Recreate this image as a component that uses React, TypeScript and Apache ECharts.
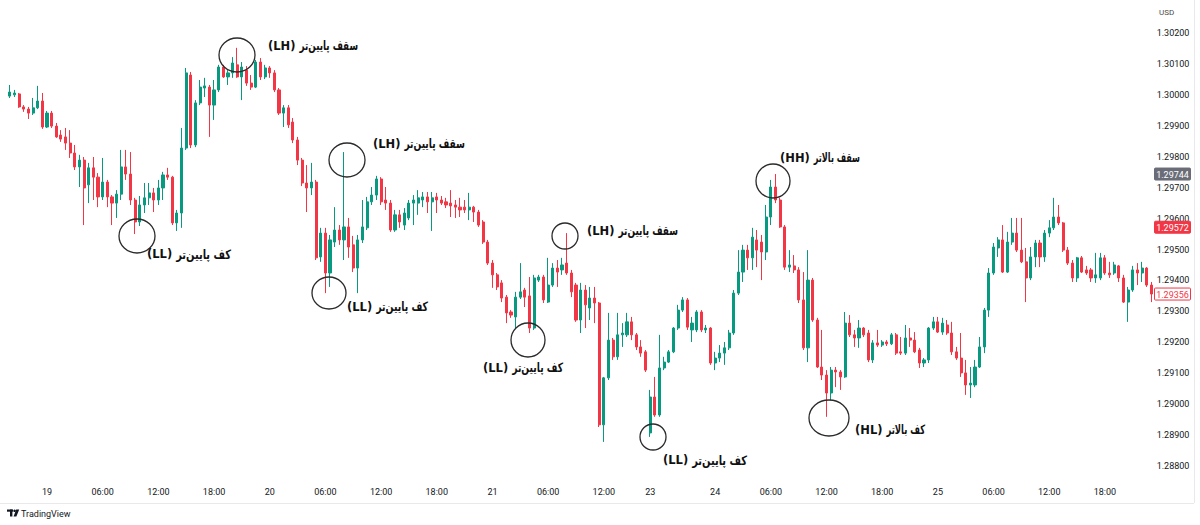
import React, { useEffect, useRef } from "react";
import * as echarts from "echarts";

// ---- time axis (30-minute bars, weekend skipped) ----
const sessionDays = ["18", "19", "20", "21", "23", "24", "25"];
const sessionStartHalfHours = [40, 0, 0, 0, 34, 0, 0];
const sessionBarCounts = [8, 48, 48, 34, 14, 48, 47];

const tickCategories = [
  "19 00:00", "19 06:00", "19 12:00", "19 18:00",
  "20 00:00", "20 06:00", "20 12:00", "20 18:00",
  "21 00:00", "21 06:00", "21 12:00",
  "23 17:00",
  "24 00:00", "24 06:00", "24 12:00", "24 18:00",
  "25 00:00", "25 06:00", "25 12:00", "25 18:00",
];
const tickLabels = [
  "19", "06:00", "12:00", "18:00",
  "20", "06:00", "12:00", "18:00",
  "21", "06:00", "12:00",
  "23",
  "24", "06:00", "12:00", "18:00",
  "25", "06:00", "12:00", "18:00",
];

// ---- OHLC values ----
const opens = [
  1.29996, 1.30000, 1.30003, 1.29961, 1.29954, 1.29941, 1.29958, 1.29980, 1.29896, 1.29941,
  1.29899, 1.29870, 1.29864, 1.29844, 1.29812, 1.29767, 1.29789, 1.29709, 1.29764, 1.29734,
  1.29670, 1.29718, 1.29670, 1.29650, 1.29679, 1.29767, 1.29744, 1.29660, 1.29589, 1.29644,
  1.29667, 1.29683, 1.29660, 1.29699, 1.29741, 1.29734, 1.29586, 1.29618, 1.29828, 1.30064,
  1.29838, 1.29974, 1.30022, 1.30025, 1.29967, 1.30016, 1.30090, 1.30058, 1.30071, 1.30097,
  1.30058, 1.30080, 1.30038, 1.30025, 1.30106, 1.30058, 1.30087, 1.30071, 1.30016, 1.29941,
  1.29958, 1.29912, 1.29854, 1.29789, 1.29715, 1.29699, 1.29718, 1.29476, 1.29553, 1.29424,
  1.29524, 1.29563, 1.29531, 1.29573, 1.29515, 1.29440, 1.29531, 1.29570, 1.29654, 1.29676,
  1.29728, 1.29660, 1.29650, 1.29563, 1.29612, 1.29579, 1.29602, 1.29650, 1.29650, 1.29660,
  1.29670, 1.29654, 1.29670, 1.29660, 1.29654, 1.29650, 1.29644, 1.29637, 1.29637, 1.29628,
  1.29637, 1.29621, 1.29589, 1.29524, 1.29456, 1.29418, 1.29392, 1.29346, 1.29298, 1.29282,
  1.29346, 1.29369, 1.29350, 1.29246, 1.29401, 1.29411, 1.29330, 1.29385, 1.29440, 1.29434,
  1.29456, 1.29424, 1.29385, 1.29272, 1.29369, 1.29311, 1.29343, 1.29327, 1.28933, 1.29085,
  1.29207, 1.29153, 1.29224, 1.29224, 1.29266, 1.29224, 1.29185, 1.29169, 1.28907, 1.29023,
  1.28965, 1.29117, 1.29136, 1.29169, 1.29246, 1.29304, 1.29337, 1.29240, 1.29240, 1.29298,
  1.29240, 1.29246, 1.29133, 1.29149, 1.29165, 1.29182, 1.29230, 1.29359, 1.29427, 1.29498,
  1.29473, 1.29531, 1.29524, 1.29492, 1.29605, 1.29702, 1.29660, 1.29573, 1.29443, 1.29447,
  1.29434, 1.29337, 1.29182, 1.29401, 1.29272, 1.29120, 1.29094, 1.29036, 1.29110, 1.29104,
  1.29088, 1.29262, 1.29224, 1.29214, 1.29246, 1.29230, 1.29143, 1.29198, 1.29191, 1.29201,
  1.29195, 1.29224, 1.29169, 1.29165, 1.29214, 1.29207, 1.29175, 1.29133, 1.29143, 1.29246,
  1.29266, 1.29233, 1.29256, 1.29230, 1.29169, 1.29149, 1.29101, 1.29062, 1.29062, 1.29120,
  1.29185, 1.29304, 1.29424, 1.29505, 1.29531, 1.29427, 1.29524, 1.29553, 1.29498, 1.29460,
  1.29408, 1.29476, 1.29521, 1.29476, 1.29553, 1.29570, 1.29605, 1.29586, 1.29498, 1.29456,
  1.29408, 1.29473, 1.29434, 1.29434, 1.29408, 1.29408, 1.29473, 1.29424, 1.29424, 1.29447,
  1.29408, 1.29330, 1.29369, 1.29434, 1.29424, 1.29440, 1.29385,
];

const closes = [
  1.30009, 1.30006, 1.29961, 1.29954, 1.29941, 1.29958, 1.29980, 1.29896, 1.29941, 1.29899,
  1.29864, 1.29857, 1.29844, 1.29812, 1.29767, 1.29789, 1.29699, 1.29764, 1.29734, 1.29670,
  1.29718, 1.29670, 1.29650, 1.29679, 1.29767, 1.29744, 1.29660, 1.29589, 1.29644, 1.29667,
  1.29683, 1.29660, 1.29699, 1.29741, 1.29734, 1.29586, 1.29618, 1.29828, 1.30071, 1.29838,
  1.29974, 1.30025, 1.30029, 1.29967, 1.30016, 1.30090, 1.30058, 1.30071, 1.30103, 1.30058,
  1.30090, 1.30038, 1.30025, 1.30106, 1.30058, 1.30087, 1.30071, 1.30016, 1.29941, 1.29958,
  1.29903, 1.29854, 1.29789, 1.29715, 1.29699, 1.29718, 1.29473, 1.29553, 1.29424, 1.29531,
  1.29563, 1.29531, 1.29573, 1.29508, 1.29440, 1.29531, 1.29573, 1.29654, 1.29676, 1.29728,
  1.29654, 1.29650, 1.29563, 1.29612, 1.29589, 1.29618, 1.29650, 1.29660, 1.29667, 1.29670,
  1.29654, 1.29667, 1.29660, 1.29650, 1.29644, 1.29641, 1.29637, 1.29628, 1.29628, 1.29637,
  1.29621, 1.29579, 1.29524, 1.29456, 1.29418, 1.29379, 1.29343, 1.29295, 1.29288, 1.29346,
  1.29363, 1.29346, 1.29246, 1.29408, 1.29411, 1.29337, 1.29385, 1.29440, 1.29427, 1.29450,
  1.29424, 1.29363, 1.29272, 1.29369, 1.29321, 1.29343, 1.29327, 1.28933, 1.29085, 1.29207,
  1.29153, 1.29224, 1.29230, 1.29266, 1.29224, 1.29185, 1.29165, 1.29110, 1.29023, 1.28965,
  1.29117, 1.29136, 1.29169, 1.29246, 1.29304, 1.29337, 1.29249, 1.29262, 1.29298, 1.29240,
  1.29246, 1.29133, 1.29149, 1.29165, 1.29182, 1.29230, 1.29359, 1.29427, 1.29498, 1.29473,
  1.29540, 1.29498, 1.29492, 1.29605, 1.29702, 1.29660, 1.29573, 1.29443, 1.29450, 1.29434,
  1.29337, 1.29182, 1.29401, 1.29272, 1.29120, 1.29094, 1.29036, 1.29110, 1.29104, 1.29088,
  1.29262, 1.29224, 1.29214, 1.29246, 1.29224, 1.29143, 1.29198, 1.29191, 1.29201, 1.29195,
  1.29224, 1.29165, 1.29165, 1.29214, 1.29207, 1.29169, 1.29133, 1.29143, 1.29246, 1.29266,
  1.29233, 1.29262, 1.29230, 1.29169, 1.29149, 1.29101, 1.29062, 1.29068, 1.29120, 1.29185,
  1.29304, 1.29424, 1.29508, 1.29531, 1.29427, 1.29524, 1.29553, 1.29498, 1.29460, 1.29408,
  1.29476, 1.29521, 1.29476, 1.29553, 1.29570, 1.29605, 1.29586, 1.29498, 1.29456, 1.29408,
  1.29473, 1.29427, 1.29424, 1.29408, 1.29418, 1.29473, 1.29424, 1.29418, 1.29450, 1.29408,
  1.29330, 1.29369, 1.29434, 1.29424, 1.29440, 1.29385, 1.29356,
];

const lows = [
  1.29990, 1.29993, 1.29958, 1.29945, 1.29922, 1.29935, 1.29954, 1.29890, 1.29893, 1.29893,
  1.29861, 1.29848, 1.29822, 1.29796, 1.29757, 1.29702, 1.29579, 1.29650, 1.29660, 1.29637,
  1.29660, 1.29637, 1.29579, 1.29602, 1.29660, 1.29725, 1.29644, 1.29550, 1.29576, 1.29618,
  1.29644, 1.29621, 1.29644, 1.29660, 1.29725, 1.29579, 1.29560, 1.29570, 1.29822, 1.29828,
  1.29831, 1.29967, 1.29993, 1.29864, 1.29919, 1.30009, 1.30055, 1.30032, 1.30055, 1.30055,
  1.29983, 1.30029, 1.30016, 1.30022, 1.30048, 1.30051, 1.30055, 1.30009, 1.29935, 1.29896,
  1.29893, 1.29844, 1.29773, 1.29705, 1.29621, 1.29676, 1.29466, 1.29460, 1.29359, 1.29379,
  1.29508, 1.29515, 1.29466, 1.29473, 1.29427, 1.29359, 1.29521, 1.29563, 1.29644, 1.29660,
  1.29644, 1.29628, 1.29557, 1.29557, 1.29570, 1.29563, 1.29595, 1.29579, 1.29612, 1.29637,
  1.29618, 1.29560, 1.29618, 1.29644, 1.29634, 1.29605, 1.29602, 1.29605, 1.29618, 1.29595,
  1.29589, 1.29573, 1.29518, 1.29450, 1.29376, 1.29369, 1.29330, 1.29262, 1.29279, 1.29246,
  1.29340, 1.29314, 1.29230, 1.29240, 1.29395, 1.29327, 1.29327, 1.29379, 1.29379, 1.29418,
  1.29418, 1.29346, 1.29266, 1.29230, 1.29246, 1.29272, 1.29262, 1.28926, 1.28878, 1.29078,
  1.29143, 1.29143, 1.29185, 1.29217, 1.29207, 1.29175, 1.29153, 1.29104, 1.28894, 1.28959,
  1.28959, 1.29110, 1.29133, 1.29165, 1.29240, 1.29298, 1.29240, 1.29201, 1.29233, 1.29233,
  1.29230, 1.29127, 1.29110, 1.29136, 1.29127, 1.29175, 1.29224, 1.29353, 1.29395, 1.29434,
  1.29434, 1.29443, 1.29401, 1.29466, 1.29579, 1.29650, 1.29570, 1.29434, 1.29427, 1.29424,
  1.29327, 1.29175, 1.29136, 1.29266, 1.29117, 1.29078, 1.28959, 1.29013, 1.29055, 1.29046,
  1.29085, 1.29217, 1.29185, 1.29182, 1.29217, 1.29136, 1.29133, 1.29185, 1.29185, 1.29188,
  1.29191, 1.29159, 1.29159, 1.29159, 1.29185, 1.29165, 1.29117, 1.29120, 1.29133, 1.29240,
  1.29230, 1.29224, 1.29224, 1.29159, 1.29143, 1.29088, 1.29030, 1.29020, 1.29055, 1.29117,
  1.29165, 1.29282, 1.29418, 1.29476, 1.29424, 1.29424, 1.29515, 1.29492, 1.29456, 1.29330,
  1.29401, 1.29443, 1.29443, 1.29460, 1.29540, 1.29563, 1.29579, 1.29492, 1.29450, 1.29395,
  1.29395, 1.29424, 1.29418, 1.29395, 1.29392, 1.29401, 1.29418, 1.29408, 1.29418, 1.29395,
  1.29327, 1.29266, 1.29363, 1.29385, 1.29395, 1.29379, 1.29330,
];

const highs = [
  1.30032, 1.30016, 1.30006, 1.29967, 1.29961, 1.29990, 1.30029, 1.30006, 1.29948, 1.29948,
  1.29909, 1.29886, 1.29893, 1.29886, 1.29838, 1.29806, 1.29799, 1.29780, 1.29799, 1.29747,
  1.29796, 1.29725, 1.29676, 1.29692, 1.29822, 1.29822, 1.29815, 1.29667, 1.29673, 1.29715,
  1.29715, 1.29699, 1.29725, 1.29751, 1.29764, 1.29738, 1.29628, 1.29893, 1.30087, 1.30074,
  1.29983, 1.30048, 1.30055, 1.30032, 1.30048, 1.30097, 1.30097, 1.30080, 1.30122, 1.30152,
  1.30106, 1.30093, 1.30064, 1.30113, 1.30119, 1.30097, 1.30093, 1.30080, 1.30022, 1.29967,
  1.29967, 1.29925, 1.29864, 1.29796, 1.29773, 1.29780, 1.29725, 1.29570, 1.29570, 1.29547,
  1.29637, 1.29579, 1.29815, 1.29602, 1.29544, 1.29547, 1.29660, 1.29670, 1.29702, 1.29738,
  1.29734, 1.29702, 1.29660, 1.29628, 1.29628, 1.29634, 1.29660, 1.29676, 1.29692, 1.29686,
  1.29686, 1.29686, 1.29683, 1.29673, 1.29667, 1.29692, 1.29660, 1.29667, 1.29660, 1.29683,
  1.29641, 1.29628, 1.29595, 1.29531, 1.29466, 1.29424, 1.29401, 1.29353, 1.29304, 1.29363,
  1.29456, 1.29376, 1.29411, 1.29418, 1.29418, 1.29418, 1.29473, 1.29456, 1.29466, 1.29473,
  1.29553, 1.29434, 1.29392, 1.29392, 1.29385, 1.29379, 1.29379, 1.29330, 1.29088, 1.29295,
  1.29214, 1.29295, 1.29262, 1.29295, 1.29282, 1.29230, 1.29207, 1.29175, 1.29046, 1.29088,
  1.29224, 1.29153, 1.29175, 1.29249, 1.29321, 1.29346, 1.29343, 1.29282, 1.29304, 1.29304,
  1.29256, 1.29249, 1.29169, 1.29191, 1.29201, 1.29240, 1.29369, 1.29498, 1.29515, 1.29515,
  1.29570, 1.29563, 1.29547, 1.29644, 1.29725, 1.29744, 1.29667, 1.29579, 1.29498, 1.29482,
  1.29443, 1.29427, 1.29498, 1.29408, 1.29279, 1.29240, 1.29110, 1.29120, 1.29120, 1.29110,
  1.29298, 1.29288, 1.29240, 1.29272, 1.29249, 1.29240, 1.29207, 1.29240, 1.29207, 1.29207,
  1.29230, 1.29230, 1.29217, 1.29256, 1.29246, 1.29233, 1.29182, 1.29149, 1.29249, 1.29282,
  1.29282, 1.29279, 1.29272, 1.29266, 1.29185, 1.29230, 1.29143, 1.29120, 1.29143, 1.29217,
  1.29311, 1.29440, 1.29521, 1.29540, 1.29579, 1.29557, 1.29602, 1.29602, 1.29602, 1.29505,
  1.29508, 1.29531, 1.29531, 1.29563, 1.29595, 1.29667, 1.29644, 1.29589, 1.29508, 1.29466,
  1.29476, 1.29479, 1.29447, 1.29440, 1.29489, 1.29489, 1.29482, 1.29460, 1.29460, 1.29450,
  1.29418, 1.29379, 1.29447, 1.29456, 1.29460, 1.29443, 1.29395,
];

// price tags on the right scale
const tagPrices = [1.29744, 1.29572, 1.29356];

// annotation layout: circle (cx, cy, rx, ry), tag text + left x, persian text + right x, text y
const annotations = [
  { cx: 137, cy: 236, rx: 18, ry: 17, tag: "(LL)", tagX: 147, fa: "کف پایین‌تر", faX: 231, ty: 254 },
  { cx: 237, cy: 55, rx: 18, ry: 17, tag: "(LH)", tagX: 268, fa: "سقف پایین‌تر", faX: 358, ty: 46 },
  { cx: 347, cy: 160, rx: 18, ry: 17, tag: "(LH)", tagX: 373, fa: "سقف پایین‌تر", faX: 465, ty: 144 },
  { cx: 329, cy: 293, rx: 17, ry: 16, tag: "(LL)", tagX: 347, fa: "کف پایین‌تر", faX: 428, ty: 307 },
  { cx: 565, cy: 236, rx: 13, ry: 13, tag: "(LH)", tagX: 587, fa: "سقف پایین‌تر", faX: 678, ty: 231 },
  { cx: 528, cy: 340, rx: 17, ry: 17, tag: "(LL)", tagX: 483, fa: "کف پایین‌تر", faX: 563, ty: 368 },
  { cx: 653, cy: 437, rx: 13, ry: 13, tag: "(LL)", tagX: 663, fa: "کف پایین‌تر", faX: 747, ty: 460 },
  { cx: 773, cy: 181, rx: 17, ry: 17, tag: "(HH)", tagX: 780, fa: "سقف بالاتر", faX: 860, ty: 158 },
  { cx: 829, cy: 418, rx: 20, ry: 18, tag: "(HL)", tagX: 855, fa: "کف بالاتر", faX: 925, ty: 430 },
];

const UP = "#089981";
const DOWN = "#f23645";
const AXIS_FONT = "Roboto, 'Liberation Sans', sans-serif";
const FA_FONT = "'DejaVu Sans', sans-serif";
const TAG_SIZE = 11.5;
const FA_SIZE = 13;

function buildCategories(): string[] {
  const out: string[] = [];
  for (let s = 0; s < sessionDays.length; s++) {
    for (let k = 0; k < sessionBarCounts[s]; k++) {
      const hh = sessionStartHalfHours[s] + k;
      const h = Math.floor(hh / 2);
      const m = hh % 2 === 0 ? "00" : "30";
      out.push(`${sessionDays[s]} ${String(h).padStart(2, "0")}:${m}`);
    }
  }
  return out;
}

function measure(text: string, size: number, family: string): number {
  const c = document.createElement("canvas").getContext("2d");
  if (!c) return text.length * size * 0.6;
  c.font = `bold ${size}px ${family}`;
  return c.measureText(text).width;
}

export default function App() {
  const ref = useRef<HTMLDivElement>(null);

  useEffect(() => {
    if (!ref.current) return;
    const chart = echarts.init(ref.current, null, { renderer: "svg" });
    const categories = buildCategories();
    const candles = opens.map((o, i) => [o, closes[i], lows[i], highs[i]]);

    chart.setOption({
      animation: false,
      backgroundColor: "#ffffff",
      grid: { left: 7.56, right: 46.34, top: 2.07, bottom: 28.07, containLabel: false },
      xAxis: {
        type: "category",
        data: categories,
        boundaryGap: true,
        offset: -16,
        axisLine: { show: false },
        axisTick: { show: false },
        splitLine: { show: false },
        axisLabel: {
          interval: (_idx: number, val: string) => tickCategories.indexOf(val) >= 0,
          formatter: (val: string) => {
            const k = tickCategories.indexOf(val);
            return k >= 0 ? tickLabels[k] : "";
          },
          color: "#131722",
          fontSize: 9,
          fontFamily: AXIS_FONT,
          margin: 7,
        },
      },
      yAxis: {
        type: "value",
        position: "right",
        min: 1.287,
        max: 1.303,
        interval: 0.001,
        scale: true,
        splitLine: { show: false },
        axisLine: { show: false },
        axisTick: { show: false },
        axisLabel: {
          formatter: (v: number) => v.toFixed(5),
          color: "#131722",
          fontSize: 9,
          fontFamily: AXIS_FONT,
          margin: 3,
          showMinLabel: false,
          showMaxLabel: false,
        },
      },
      series: [
        {
          type: "candlestick",
          data: candles,
          barWidth: 2.6,
          itemStyle: {
            color: UP,
            color0: DOWN,
            borderColor: UP,
            borderColor0: DOWN,
            borderWidth: 1,
          },
        },
      ],
    });

    const graphics: any[] = [];

    // annotations
    annotations.forEach((a) => {
      graphics.push({
        type: "ellipse",
        shape: { cx: a.cx, cy: a.cy, rx: a.rx, ry: a.ry },
        style: { fill: "none", stroke: "#2b2b2b", lineWidth: 1.3 },
        z: 100,
      });
      const tagW = measure(a.tag, TAG_SIZE, FA_FONT);
      graphics.push({
        type: "text",
        x: a.tagX,
        y: a.ty,
        style: {
          text: a.tag,
          fontSize: TAG_SIZE,
          fontWeight: "bold",
          fontFamily: FA_FONT,
          fill: "#111111",
          align: "left",
          verticalAlign: "middle",
        },
        z: 100,
      });
      const avail = a.faX - (a.tagX + tagW + 4);
      const faW = measure(a.fa, FA_SIZE, FA_FONT);
      const sx = faW > avail && faW > 0 ? avail / faW : 1;
      graphics.push({
        type: "text",
        x: a.faX,
        y: a.ty,
        scaleX: sx,
        style: {
          text: a.fa,
          fontSize: FA_SIZE,
          fontWeight: "bold",
          fontFamily: FA_FONT,
          fill: "#111111",
          align: "right",
          verticalAlign: "middle",
        },
        z: 100,
      });
    });

    // price tags on the right scale, placed through the y axis
    const tagStyles = [
      { fill: "#6a6d78", stroke: "#6a6d78", text: "#ffffff" },
      { fill: DOWN, stroke: DOWN, text: "#ffffff" },
      { fill: "#ffffff", stroke: DOWN, text: DOWN },
    ];
    tagPrices.forEach((p, i) => {
      const y = chart.convertToPixel({ yAxisIndex: 0 }, p) as number;
      graphics.push({
        type: "rect",
        shape: { x: 1154.5, y: y - 6, width: 36, height: 12, r: 1 },
        style: { fill: tagStyles[i].fill, stroke: tagStyles[i].stroke, lineWidth: 1 },
        z: 50,
      });
      graphics.push({
        type: "text",
        x: 1172.5,
        y: y + 0.5,
        style: {
          text: p.toFixed(5),
          fontSize: 9,
          fontFamily: AXIS_FONT,
          fill: tagStyles[i].text,
          align: "center",
          verticalAlign: "middle",
        },
        z: 51,
      });
    });

    // frame lines
    graphics.push({
      type: "line",
      shape: { x1: 0, y1: 503.5, x2: 1194, y2: 503.5 },
      style: { stroke: "#e9e9ec", lineWidth: 1 },
    });
    graphics.push({
      type: "line",
      shape: { x1: 1194.5, y1: 0, x2: 1194.5, y2: 503 },
      style: { stroke: "#e9e9ec", lineWidth: 1 },
    });
    // currency label
    graphics.push({
      type: "text",
      x: 1159,
      y: 12,
      style: { text: "USD", fontSize: 8, fontFamily: AXIS_FONT, fill: "#4a4a4a", verticalAlign: "middle" },
    });
    // TradingView mark
    graphics.push({ type: "rect", shape: { x: 7, y: 509.5, width: 6, height: 2.2 }, style: { fill: "#131722" } });
    graphics.push({ type: "rect", shape: { x: 10, y: 509.5, width: 2.4, height: 7 }, style: { fill: "#131722" } });
    graphics.push({ type: "circle", shape: { cx: 14.6, cy: 510.8, r: 1.3 }, style: { fill: "#131722" } });
    graphics.push({
      type: "polygon",
      shape: { points: [[16.2, 509.5], [19.2, 509.5], [16.4, 516.5], [13.6, 516.5]] },
      style: { fill: "#131722" },
    });
    graphics.push({
      type: "text",
      x: 21,
      y: 513.5,
      style: { text: "TradingView", fontSize: 9, fontFamily: AXIS_FONT, fill: "#131722", verticalAlign: "middle" },
    });

    chart.setOption({ graphic: graphics });

    return () => chart.dispose();
  }, []);

  return (
    <div
      ref={ref}
      style={{ position: "fixed", left: 0, top: 0, width: 1200, height: 525, background: "#ffffff" }}
    />
  );
}
